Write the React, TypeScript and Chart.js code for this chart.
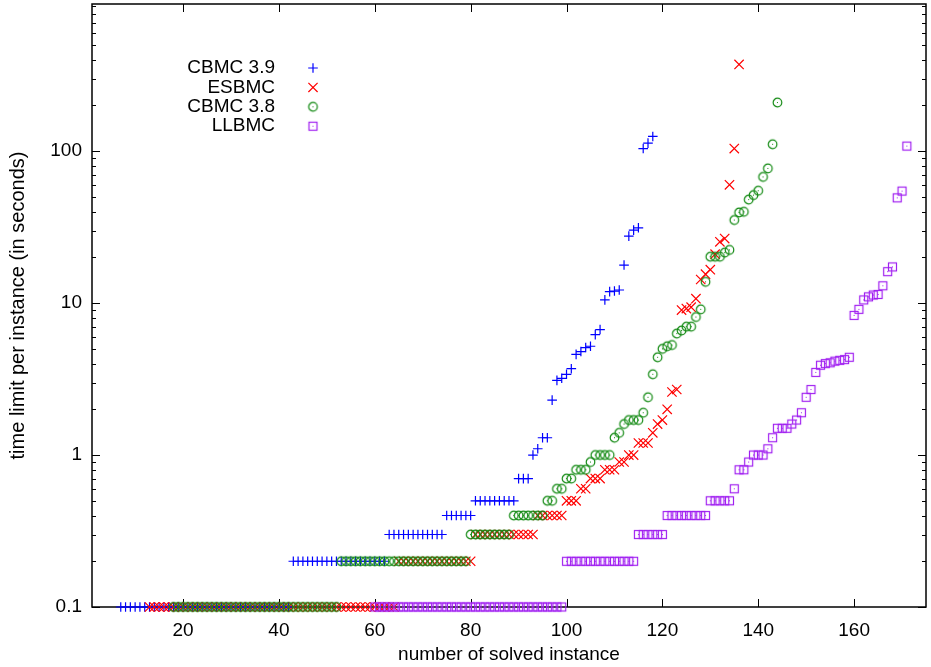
import React, { useEffect, useRef } from 'react';
import { Chart, registerables } from 'chart.js';

Chart.register(...registerables);

// ---------- data (x = first solved index + position in list) ----------
const seriesLabels = ['CBMC 3.9', 'ESBMC', 'CBMC 3.8', 'LLBMC'];
const seriesColors = ['#0000ff', '#ff0000', '#138a13', '#a020f0'];

const cbmc39Start = 7;
const cbmc39Times = [
  0.1, 0.1, 0.1, 0.1, 0.1, 0.1, 0.1, 0.1, 0.1, 0.1, 0.1, 0.1, 0.1, 0.1, 0.1, 0.1, 0.1, 0.1,
  0.1, 0.1, 0.1, 0.1, 0.1, 0.1, 0.1, 0.1, 0.1, 0.1, 0.1, 0.1, 0.1, 0.1, 0.1, 0.1, 0.1, 0.1,
  0.2, 0.2, 0.2, 0.2, 0.2, 0.2, 0.2, 0.2, 0.2, 0.2, 0.2, 0.2, 0.2, 0.2, 0.2, 0.2, 0.2, 0.2, 0.2, 0.2,
  0.3, 0.3, 0.3, 0.3, 0.3, 0.3, 0.3, 0.3, 0.3, 0.3, 0.3, 0.3,
  0.4, 0.4, 0.4, 0.4, 0.4, 0.4,
  0.5, 0.5, 0.5, 0.5, 0.5, 0.5, 0.5, 0.5, 0.5,
  0.7, 0.7, 0.7,
  1.0, 1.1, 1.3, 1.3, 2.3, 3.1, 3.2, 3.4, 3.7, 4.6, 4.8, 5.1, 5.2, 6.2, 6.7,
  10.5, 11.9, 12.0, 12.2, 17.8, 27.6, 30.2, 31.3, 104, 113, 125,
];

const esbmcStart = 13;
const esbmcTimes = [
  0.1, 0.1, 0.1, 0.1, 0.1, 0.1, 0.1, 0.1, 0.1, 0.1, 0.1, 0.1, 0.1, 0.1, 0.1, 0.1, 0.1, 0.1,
  0.1, 0.1, 0.1, 0.1, 0.1, 0.1, 0.1, 0.1, 0.1, 0.1, 0.1, 0.1, 0.1, 0.1, 0.1, 0.1, 0.1, 0.1,
  0.1, 0.1, 0.1, 0.1, 0.1, 0.1, 0.1, 0.1, 0.1, 0.1, 0.1, 0.1, 0.1, 0.1, 0.1, 0.1,
  0.2, 0.2, 0.2, 0.2, 0.2, 0.2, 0.2, 0.2, 0.2, 0.2, 0.2, 0.2, 0.2, 0.2, 0.2, 0.2,
  0.3, 0.3, 0.3, 0.3, 0.3, 0.3, 0.3, 0.3, 0.3, 0.3, 0.3, 0.3, 0.3,
  0.4, 0.4, 0.4, 0.4, 0.4, 0.4,
  0.5, 0.5, 0.5, 0.6, 0.6, 0.7, 0.7, 0.7, 0.8, 0.8, 0.8, 0.9, 0.9, 1.0, 1.0,
  1.2, 1.2, 1.2, 1.4, 1.6, 1.7, 2.0, 2.6, 2.7,
  9.0, 9.2, 9.4, 10.7, 14.3, 15.5, 16.6, 21, 25.3, 26.6, 60, 104, 372,
];

const cbmc38Start = 18;
const cbmc38Times = [
  0.1, 0.1, 0.1, 0.1, 0.1, 0.1, 0.1, 0.1, 0.1, 0.1, 0.1, 0.1, 0.1, 0.1, 0.1, 0.1, 0.1, 0.1,
  0.1, 0.1, 0.1, 0.1, 0.1, 0.1, 0.1, 0.1, 0.1, 0.1, 0.1, 0.1, 0.1, 0.1, 0.1, 0.1, 0.1,
  0.2, 0.2, 0.2, 0.2, 0.2, 0.2, 0.2, 0.2, 0.2, 0.2, 0.2, 0.2, 0.2, 0.2, 0.2, 0.2, 0.2, 0.2,
  0.2, 0.2, 0.2, 0.2, 0.2, 0.2, 0.2, 0.2, 0.2,
  0.3, 0.3, 0.3, 0.3, 0.3, 0.3, 0.3, 0.3, 0.3,
  0.4, 0.4, 0.4, 0.4, 0.4, 0.4, 0.4,
  0.5, 0.5, 0.6, 0.6, 0.7, 0.7, 0.8, 0.8, 0.8, 0.9, 1.0, 1.0, 1.0, 1.0,
  1.3, 1.4, 1.6, 1.7, 1.7, 1.7, 1.9, 2.4, 3.4, 4.4, 5.0, 5.2, 5.3, 6.3, 6.6, 7.0, 7.0, 8.1, 9.1,
  13.8, 20.2, 20.2, 20.2, 21.5, 22.4, 35.2, 39.5, 39.9, 48, 51.4, 54.9, 67.7, 77, 111, 209,
];

const llbmcStart = 60;
const llbmcTimes = [
  0.1, 0.1, 0.1, 0.1, 0.1, 0.1, 0.1, 0.1, 0.1, 0.1, 0.1, 0.1, 0.1, 0.1, 0.1, 0.1, 0.1, 0.1, 0.1, 0.1,
  0.1, 0.1, 0.1, 0.1, 0.1, 0.1, 0.1, 0.1, 0.1, 0.1, 0.1, 0.1, 0.1, 0.1, 0.1, 0.1, 0.1, 0.1, 0.1, 0.1,
  0.2, 0.2, 0.2, 0.2, 0.2, 0.2, 0.2, 0.2, 0.2, 0.2, 0.2, 0.2, 0.2, 0.2, 0.2,
  0.3, 0.3, 0.3, 0.3, 0.3, 0.3,
  0.4, 0.4, 0.4, 0.4, 0.4, 0.4, 0.4, 0.4, 0.4,
  0.5, 0.5, 0.5, 0.5, 0.5,
  0.6, 0.8, 0.8, 0.9, 1.0, 1.0, 1.0, 1.1, 1.3, 1.5, 1.5, 1.5, 1.6, 1.7, 1.9, 2.4, 2.7,
  3.5, 3.9, 4.0, 4.05, 4.15, 4.2, 4.25, 4.4,
  8.3, 9.1, 10.5, 11.0, 11.3, 11.4, 13.0, 16.1, 17.3, 49.3, 54.6, 108,
];

const seriesStarts = [cbmc39Start, esbmcStart, cbmc38Start, llbmcStart];
const seriesTimes = [cbmc39Times, esbmcTimes, cbmc38Times, llbmcTimes];

const xMin = 1;
const xMax = 175;
const yMin = 0.1;
const yMax = 930;
const xTickValues = [20, 40, 60, 80, 100, 120, 140, 160];
const yTickValues = [0.1, 1, 10, 100];
const yTickLabels = ['0.1', '1', '10', '100'];
const xTitle = 'number of solved instance';
const yTitle = 'time limit per instance (in seconds)';

const FONT = '"Liberation Sans", Arial, Helvetica, sans-serif';

function makeMarker(kind: 'circle' | 'square', color: string): HTMLCanvasElement {
  const c = document.createElement('canvas');
  c.width = 13;
  c.height = 13;
  const g = c.getContext('2d')!;
  g.strokeStyle = color;
  g.fillStyle = color;
  g.lineWidth = 1.2;
  if (kind === 'circle') {
    g.beginPath();
    g.arc(6.5, 6.5, 4.3, 0, Math.PI * 2);
    g.stroke();
  } else {
    g.strokeRect(2.5, 2.5, 8, 8);
  }
  g.fillRect(6, 6, 1, 1);
  return c;
}

export default function App() {
  const ref = useRef<HTMLCanvasElement | null>(null);

  useEffect(() => {
    if (!ref.current) return;
    const circleImg = makeMarker('circle', seriesColors[2]);
    const squareImg = makeMarker('square', seriesColors[3]);
    const styles: any[] = ['cross', 'crossRot', circleImg, squareImg];
    const radii = [4.8, 6.6, 4.5, 4.5];
    const orders = [4, 3, 2, 1];

    const datasets = seriesLabels.map((label, s) => ({
      label,
      data: seriesTimes[s].map((t, i) => ({ x: seriesStarts[s] + i, y: t })),
      pointStyle: styles[s],
      pointRadius: radii[s],
      pointBorderWidth: 1.2,
      pointBorderColor: seriesColors[s],
      pointBackgroundColor: 'rgba(0,0,0,0)',
      showLine: false,
      order: orders[s],
      clip: false as any,
    }));

    const framePlugin = {
      id: 'frame',
      beforeDatasetsDraw(chart: any) {
        const { ctx, chartArea } = chart;
        const { left, right, top, bottom } = chartArea;
        const xs = chart.scales.x;
        const ys = chart.scales.y;
        ctx.save();
        ctx.strokeStyle = '#000';
        ctx.lineWidth = 1;
        ctx.beginPath();
        for (const v of xTickValues) {
          const px = Math.round(xs.getPixelForValue(v)) + 0.5;
          ctx.moveTo(px, bottom);
          ctx.lineTo(px, bottom - 8);
          ctx.moveTo(px, top);
          ctx.lineTo(px, top + 8);
        }
        for (let d = -1; d <= 2; d++) {
          for (let k = 1; k <= 9; k++) {
            const v = k * Math.pow(10, d);
            if (v < yMin - 1e-9 || v > yMax) continue;
            const py = Math.round(ys.getPixelForValue(v)) + 0.5;
            const len = k === 1 ? 8 : 4;
            ctx.moveTo(left, py);
            ctx.lineTo(left + len, py);
            ctx.moveTo(right, py);
            ctx.lineTo(right - len, py);
          }
        }
        ctx.stroke();
        ctx.lineWidth = 1.5;
        ctx.strokeRect(left, top, right - left, bottom - top);
        ctx.restore();
      },
      afterDraw(chart: any) {
        const { ctx } = chart;
        ctx.save();
        ctx.font = `19px ${FONT}`;
        ctx.fillStyle = '#000';
        ctx.textAlign = 'right';
        ctx.textBaseline = 'middle';
        seriesLabels.forEach((label, s) => {
          const y = 68 + s * 19.4;
          ctx.fillText(label, 275, y);
          const x = 313;
          ctx.strokeStyle = seriesColors[s];
          ctx.lineWidth = 1.2;
          if (s === 0) {
            ctx.beginPath();
            ctx.moveTo(x - 4.8, y);
            ctx.lineTo(x + 4.8, y);
            ctx.moveTo(x, y - 4.8);
            ctx.lineTo(x, y + 4.8);
            ctx.stroke();
          } else if (s === 1) {
            ctx.beginPath();
            ctx.moveTo(x - 4.6, y - 4.6);
            ctx.lineTo(x + 4.6, y + 4.6);
            ctx.moveTo(x - 4.6, y + 4.6);
            ctx.lineTo(x + 4.6, y - 4.6);
            ctx.stroke();
          } else {
            const img = s === 2 ? circleImg : squareImg;
            ctx.drawImage(img, x - 6.5, y - 6.5);
          }
        });
        ctx.restore();
      },
    };

    const chart = new Chart(ref.current, {
      type: 'scatter',
      data: { datasets: datasets as any },
      options: {
        animation: false,
        responsive: false,
        events: [],
        layout: { autoPadding: false, padding: { top: 4, right: 5, left: 0, bottom: 0 } },
        plugins: { legend: { display: false }, tooltip: { enabled: false } },
        scales: {
          x: {
            type: 'linear',
            min: xMin,
            max: xMax,
            afterBuildTicks: (s: any) => {
              s.ticks = xTickValues.map((v) => ({ value: v }));
            },
            afterFit: (s: any) => {
              s.height = 60;
              s.paddingLeft = 0;
              s.paddingRight = 0;
            },
            grid: { display: false, drawTicks: false },
            border: { display: false },
            ticks: {
              autoSkip: false,
              maxRotation: 0,
              padding: 12,
              color: '#000',
              font: { family: FONT, size: 19 },
            },
            title: {
              display: true,
              text: xTitle,
              color: '#000',
              font: { family: FONT, size: 19 },
              padding: { top: 0, bottom: 1 },
            },
          },
          y: {
            type: 'logarithmic',
            min: yMin,
            max: yMax,
            afterBuildTicks: (s: any) => {
              s.ticks = yTickValues.map((v) => ({ value: v }));
            },
            afterFit: (s: any) => {
              s.width = 92;
              s.paddingTop = 0;
              s.paddingBottom = 0;
            },
            grid: { display: false, drawTicks: false },
            border: { display: false },
            ticks: {
              autoSkip: false,
              padding: 10,
              color: '#000',
              font: { family: FONT, size: 19 },
              callback: (_v: any, i: number) => yTickLabels[i],
            },
            title: {
              display: true,
              text: yTitle,
              color: '#000',
              font: { family: FONT, size: 20 },
              padding: { top: 6, bottom: 0 },
            },
          },
        },
      },
      plugins: [framePlugin],
    });
    return () => chart.destroy();
  }, []);

  return (
    <div style={{ position: 'absolute', left: 0, top: 0, width: 931, height: 667, background: '#fff' }}>
      <canvas ref={ref} width={931} height={667} style={{ width: 931, height: 667, display: 'block' }} />
    </div>
  );
}
